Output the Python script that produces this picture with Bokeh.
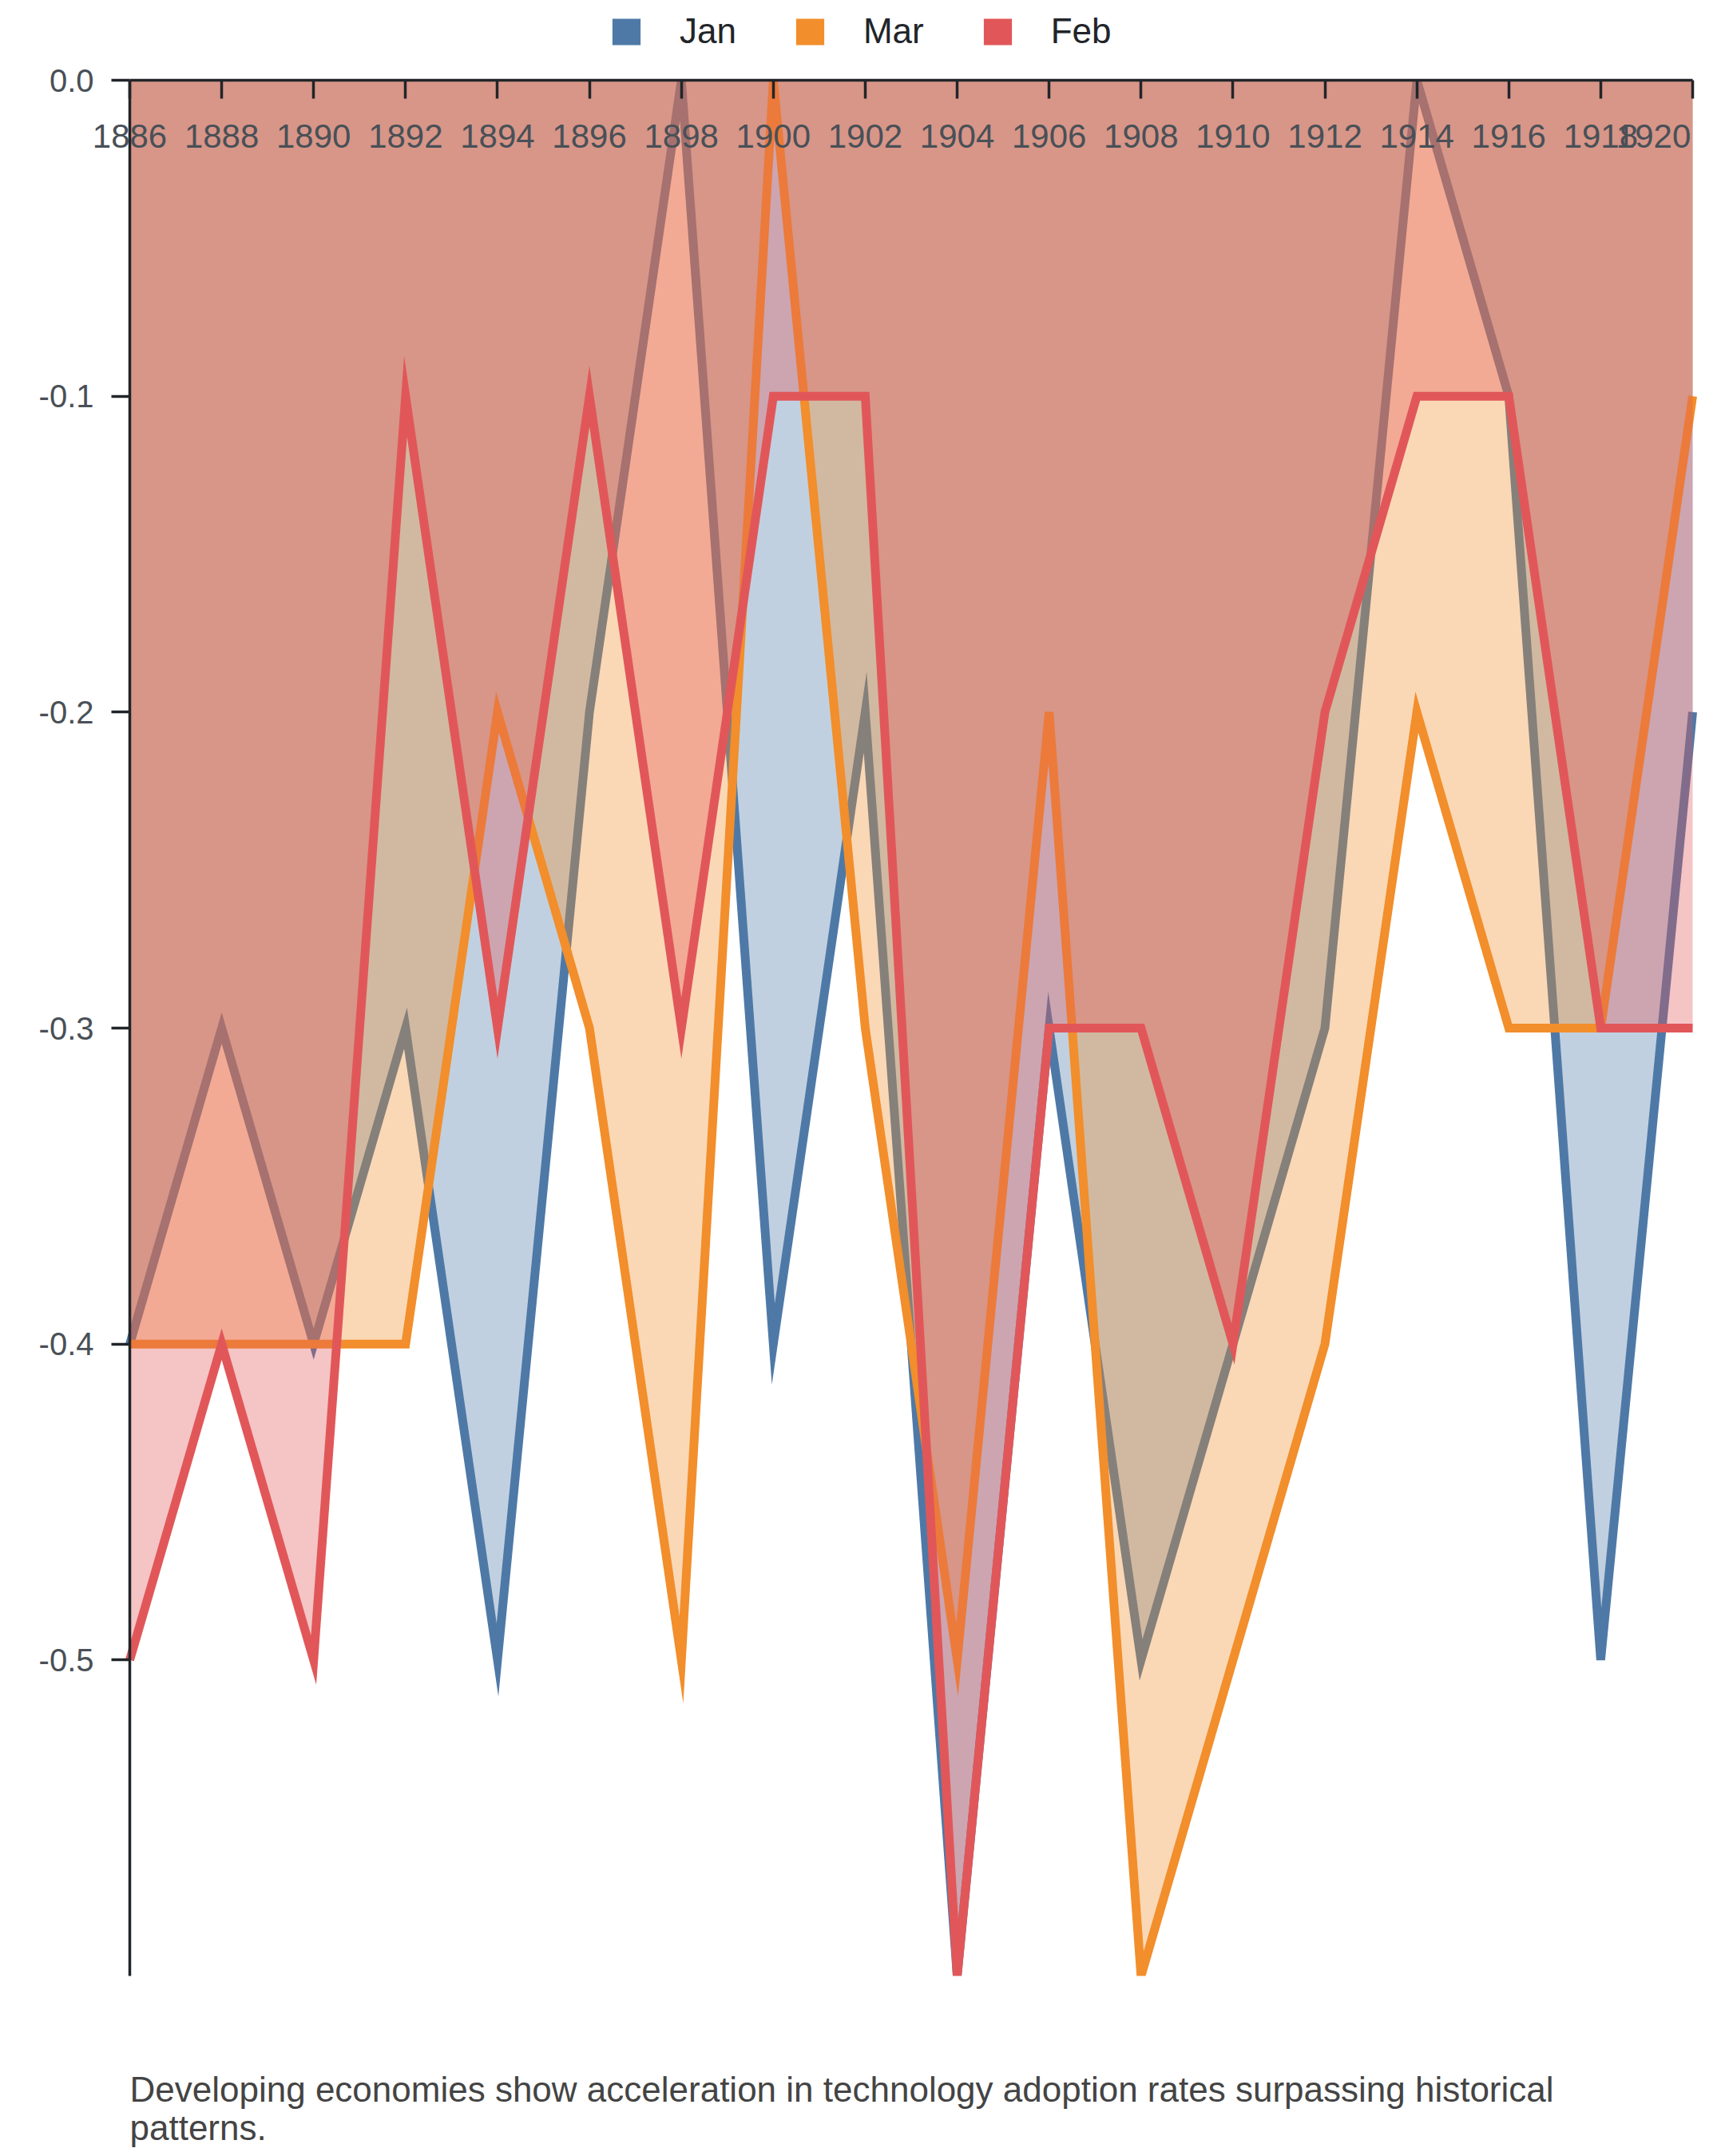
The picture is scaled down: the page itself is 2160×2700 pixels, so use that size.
from bokeh.plotting import figure
from bokeh.models import (LinearAxis, FixedTicker, Range1d, Legend, LegendItem,
                          NumeralTickFormatter, BoxAnnotation, Label)
from bokeh.embed import file_html
from bokeh.resources import INLINE

# ---------------- data ----------------
years = [1886, 1888, 1890, 1892, 1894, 1896, 1898, 1900, 1902,
         1904, 1906, 1908, 1910, 1912, 1914, 1916, 1918, 1920]
jan = [-0.4, -0.3, -0.4, -0.3, -0.5, -0.2, 0.0, -0.4, -0.2,
       -0.6, -0.3, -0.5, -0.4, -0.3, 0.0, -0.1, -0.5, -0.2]
mar = [-0.4, -0.4, -0.4, -0.4, -0.2, -0.3, -0.5, 0.0, -0.3,
       -0.5, -0.2, -0.6, -0.5, -0.4, -0.2, -0.3, -0.3, -0.1]
feb = [-0.5, -0.4, -0.5, -0.1, -0.3, -0.1, -0.3, -0.1, -0.1,
       -0.6, -0.3, -0.3, -0.4, -0.2, -0.1, -0.1, -0.3, -0.3]
series_names = ["Jan", "Mar", "Feb"]
series_colors = ["#4e79a7", "#f28e2b", "#e15759"]
x_tick_labels = [str(y) for y in years]
y_ticks = [0.0, -0.1, -0.2, -0.3, -0.4, -0.5]
y_tick_labels = ["0.0", "-0.1", "-0.2", "-0.3", "-0.4", "-0.5"]
y_min, y_max = -0.6, 0.0
caption_lines = [
    "Developing economies show acceleration in technology adoption rates surpassing historical",
    "patterns.",
]

FONT = "Liberation Sans"
TICK_COLOR = "#495057"
AXIS_COLOR = "#212529"
AXIS_W = 3.5

# ---------------- layout (pixels) ----------------
W, H = 2152, 2692
PLOT_L, PLOT_R, PLOT_T, PLOT_B = 162, 2119, 100, 2474

x0, x1 = years[0], years[-1]
px_per_x = (PLOT_R - PLOT_L) / (x1 - x0)
px_per_y = (PLOT_B - PLOT_T) / (y_max - y_min)
x_range = Range1d(x0 - PLOT_L / px_per_x, x1 + (W - PLOT_R) / px_per_x)
y_range = Range1d(y_min - (H - PLOT_B) / px_per_y, y_max + PLOT_T / px_per_y)

p = figure(width=W, height=H, output_backend="svg", toolbar_location=None,
           x_range=x_range, y_range=y_range,
           x_axis_location=None, y_axis_location=None,
           min_border=0, min_border_left=0, min_border_right=0,
           min_border_top=0, min_border_bottom=0)
p.outline_line_color = None
p.grid.visible = False
p.background_fill_color = "white"
p.border_fill_color = "white"

# ---------------- areas + lines ----------------
series_vals = [jan, mar, feb]
legend_items = []
for name, vals, col in zip(series_names, series_vals, series_colors):
    # zero-height area: only used to draw a solid swatch in the legend
    swatch = p.varea(x=years, y1=vals, y2=vals, fill_color=col, fill_alpha=1.0)
    p.varea(x=years, y1=vals, y2=[y_max] * len(vals), fill_color=col, fill_alpha=0.35)
    p.line(x=years, y=vals, line_color=col, line_width=11, line_join="miter")
    legend_items.append(LegendItem(label=name, renderers=[swatch]))

# clip the plotting area at the value domain
p.add_layout(BoxAnnotation(bottom=y_max, fill_color="white", fill_alpha=1.0,
                           line_color=None, level="glyph"))
p.add_layout(BoxAnnotation(top=y_min, fill_color="white", fill_alpha=1.0,
                           line_color=None, level="glyph"))

# ---------------- y axis ----------------
yaxis = LinearAxis(ticker=FixedTicker(ticks=y_ticks), fixed_location=x0,
                   bounds=(y_min, y_max),
                   formatter=NumeralTickFormatter(format="0.0"),
                   major_label_overrides={t: l for t, l in zip(y_ticks, y_tick_labels)},
                   axis_line_color=AXIS_COLOR, axis_line_width=AXIS_W,
                   major_tick_line_color=AXIS_COLOR, major_tick_line_width=AXIS_W,
                   major_tick_out=23, major_tick_in=0, minor_tick_out=0, minor_tick_in=0,
                   major_label_standoff=22, major_label_text_font=FONT,
                   major_label_text_font_size="40px", major_label_text_color=TICK_COLOR)
p.add_layout(yaxis, "left")

# ---------------- x axis along y = 0 (top edge), ticks and labels below it ----------------
main_labels = {y: l for y, l in zip(years[:-1], x_tick_labels[:-1])}
main_labels[years[-1]] = ""
xaxis = LinearAxis(ticker=FixedTicker(ticks=years), fixed_location=y_max,
                   bounds=(x0, x1),
                   major_label_overrides=main_labels,
                   axis_line_color=AXIS_COLOR, axis_line_width=AXIS_W,
                   major_tick_line_color=AXIS_COLOR, major_tick_line_width=AXIS_W,
                   major_tick_out=23, major_tick_in=0, minor_tick_out=0, minor_tick_in=0,
                   major_label_standoff=32, major_label_text_font=FONT,
                   major_label_text_font_size="42px", major_label_text_color=TICK_COLOR)
p.add_layout(xaxis, "below")

# last label is flush with the right end of the axis
shift = 0.85
p.extra_x_ranges = {"flush": Range1d(x_range.start + shift, x_range.end + shift)}
xaxis_last = LinearAxis(x_range_name="flush", ticker=FixedTicker(ticks=[years[-1]]),
                        fixed_location=y_max,
                        major_label_overrides={years[-1]: x_tick_labels[-1]},
                        axis_line_color=None, major_tick_line_color=None,
                        minor_tick_line_color=None,
                        major_tick_out=23, major_tick_in=0,
                        major_label_standoff=32, major_label_text_font=FONT,
                        major_label_text_font_size="42px", major_label_text_color=TICK_COLOR)
p.add_layout(xaxis_last, "below")

# ---------------- legend (top, horizontal) ----------------
legend = Legend(items=legend_items, orientation="horizontal",
                location=(762, H - 64), padding=0, margin=0, spacing=70,
                glyph_width=44, glyph_height=41, label_standoff=45,
                label_text_font=FONT, label_text_font_size="44px",
                label_text_color="#212529", border_line_color=None,
                background_fill_alpha=0)
p.add_layout(legend, "center")

# ---------------- caption ----------------
caption_y = [H - 2616, H - 2664]
for line, cy in zip(caption_lines, caption_y):
    p.add_layout(Label(x=PLOT_L, y=cy, x_units="screen", y_units="screen", text=line,
                       text_font=FONT, text_font_size="44px", text_color="#444444",
                       text_align="left", text_baseline="middle"))

open("out.html", "w").write(file_html(p, INLINE))
